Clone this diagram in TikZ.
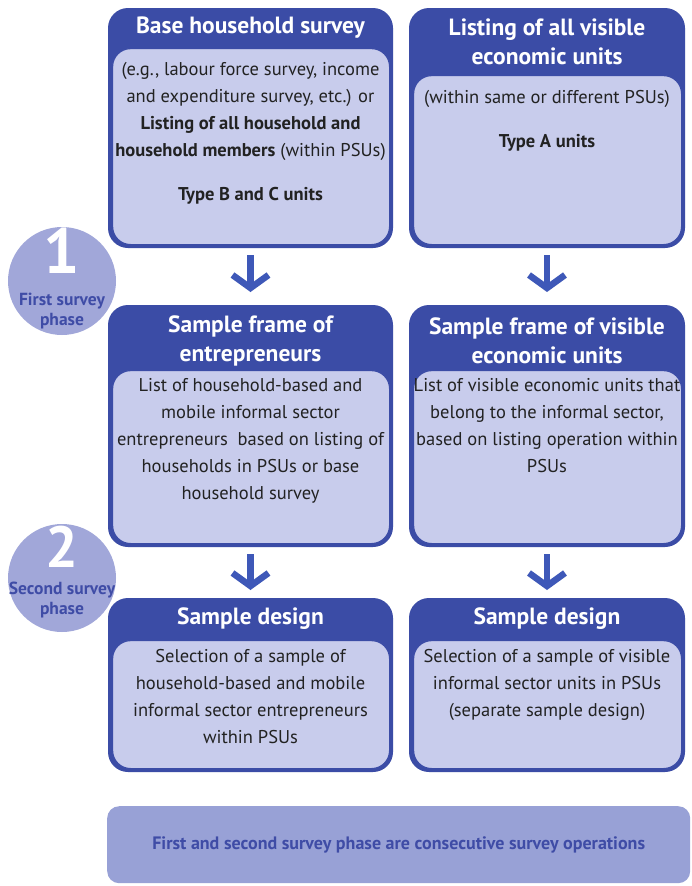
\documentclass[tikz,border=0pt]{standalone}
\usepackage{fontspec}
\setmainfont{PT Sans}
\usetikzlibrary{arrows.meta,positioning}
\definecolor{darkband}{HTML}{3B4CA6}
\definecolor{panelfill}{HTML}{C8CCEC}
\definecolor{phasefill}{HTML}{A1A7D9}
\definecolor{bannerfill}{HTML}{98A1D6}
\definecolor{bannerink}{HTML}{3F4CA6}
\definecolor{bodyink}{HTML}{222222}
\definecolor{arrowblue}{HTML}{3E58B8}
\tikzset{
  outerbox/.style={fill=darkband,rounded corners=20pt,anchor=north west,inner sep=0pt,outer sep=0pt},
  panel/.style={fill=panelfill,draw=darkband,line width=1.2pt,rounded corners=18pt,anchor=north west,inner sep=0pt},
  headtext/.style={text=white,font=\fontsize{23.5}{29}\selectfont\bfseries,align=center,inner sep=0pt},
  bodytext/.style={text=bodyink,font=\fontsize{18.5}{27}\selectfont,align=center,anchor=north,inner sep=0pt},
  flowarrow/.style={draw=arrowblue,line width=6.5pt,-{Straight Barb[length=13pt,width=36pt]}},
  phasecircle/.style={circle,fill=phasefill,minimum size=108pt,inner sep=0pt},
  phasenum/.style={text=white,inner sep=0pt,text depth=0pt},
  phaselabel/.style={text=bannerink,font=\fontsize{17.5}{20.5}\selectfont\bfseries,align=center,inner sep=0pt},
  banner/.style={fill=bannerfill,rounded corners=12pt,anchor=north west,text=bannerink,
    font=\fontsize{18}{20}\selectfont\bfseries,minimum width=583pt,minimum height=77pt}
}
\begin{document}
\begin{tikzpicture}[x=1pt,y=-1pt]
	\fill[white] (0,0) rectangle (691,886);
	\useasboundingbox (0,0) rectangle (691,886);
	% phase markers
	\node[phasecircle] (phaseone) at (62,281) {};
	\node[phasenum,font=\fontsize{64}{64}\selectfont\bfseries] (numone) at (62,251) {1};
	\node[phaselabel] (labone) at (62,311) {First survey\\phase};
	\node[phasecircle] (phasetwo) at (62,578) {};
	\node[phasenum,font=\fontsize{58}{58}\selectfont\bfseries] (numtwo) at (62,547) {2};
	\node[phaselabel] (labtwo) at (62,600) {Second survey\\phase};
	% first row
	\node[outerbox,minimum width=285pt,minimum height=240pt] (baseout) at (108,8) {};
	\node[panel,minimum width=277pt,minimum height=196pt] (basepanel) at (112,48) {};
	\node[headtext] (basehead) at (250.5,28) {Base household survey};
	\node[bodytext] (basebody) at (250.5,62) {(e.g., labour force survey, income\\and expenditure survey, etc.) or\\\textbf{Listing of all household and}\\\textbf{household members} (within PSUs)\\[17pt]\textbf{Type B and C units}};
	\node[outerbox,minimum width=276pt,minimum height=240pt] (listout) at (409,8) {};
	\node[panel,minimum width=268pt,minimum height=169pt] (listpanel) at (413,75) {};
	\node[headtext] (listhead) at (547,41.5) {Listing of all visible\\economic units};
	\node[bodytext] (listbody) at (547,90) {(within same or different PSUs)\\[17pt]\textbf{Type A units}};
	% second row
	\node[outerbox,minimum width=285pt,minimum height=242pt] (frameout) at (108,305) {};
	\node[panel,minimum width=277pt,minimum height=173pt] (framepanel) at (112,370) {};
	\node[headtext] (framehead) at (250.5,340.5) {Sample frame of\\entrepreneurs};
	\node[bodytext] (framebody) at (250.5,378) {List of household-based and\\mobile informal sector\\entrepreneurs~ based on listing of\\households in PSUs or base\\household survey};
	\node[outerbox,minimum width=276pt,minimum height=242pt] (visout) at (409,305) {};
	\node[panel,minimum width=268pt,minimum height=173pt] (vispanel) at (413,370) {};
	\node[headtext] (vishead) at (547,340.5) {Sample frame of visible\\economic units};
	\node[bodytext] (visbody) at (547,378) {List of visible economic units that\\belong to the informal sector,\\based on listing operation within\\PSUs};
	% third row
	\node[outerbox,minimum width=285pt,minimum height=174pt] (designout) at (108,598) {};
	\node[panel,minimum width=277pt,minimum height=128pt] (designpanel) at (112,640) {};
	\node[headtext] (designhead) at (250.5,619) {Sample design};
	\node[bodytext] (designbody) at (250.5,649) {Selection of a sample of\\household-based and mobile\\informal sector entrepreneurs\\within PSUs};
	\node[outerbox,minimum width=276pt,minimum height=174pt] (sepout) at (409,598) {};
	\node[panel,minimum width=268pt,minimum height=128pt] (seppanel) at (413,640) {};
	\node[headtext] (sephead) at (547,619) {Sample design};
	\node[bodytext] (sepbody) at (547,649) {Selection of a sample of visible\\informal sector units in PSUs\\(separate sample design)};
	% arrows
	\draw[flowarrow,shorten <=7pt,shorten >=13pt] (baseout) -- (frameout);
	\draw[flowarrow,shorten <=7pt,shorten >=13pt] (listout) -- (visout);
	\draw[flowarrow,shorten <=7pt,shorten >=8pt] (frameout) -- (designout);
	\draw[flowarrow,shorten <=7pt,shorten >=8pt] (visout) -- (sepout);
	% note
	\node[banner] (note) at (107,806) {First and second survey phase are consecutive survey operations};
\end{tikzpicture}
\end{document}
